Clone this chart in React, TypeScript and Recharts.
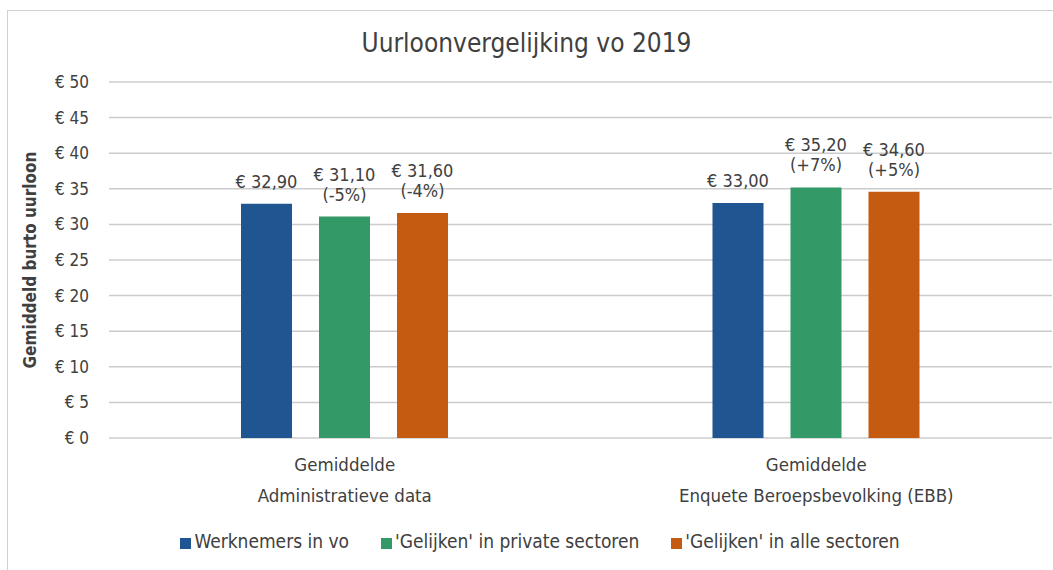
import { BarChart, Bar, XAxis, YAxis, CartesianGrid, Legend, LabelList } from 'recharts'

const groups = ['Gemiddelde', 'Gemiddelde']
const sources = ['Administratieve data', 'Enquete Beroepsbevolking (EBB)']
const werknemersVo = [32.9, 33.0]
const gelijkenPrivate = [31.1, 35.2]
const gelijkenAlle = [31.6, 34.6]
const pctPrivate = ['(-5%)', '(+7%)']
const pctAlle = ['(-4%)', '(+5%)']
const yTicks = [0, 5, 10, 15, 20, 25, 30, 35, 40, 45, 50]

const series = [
  { key: 'vo', name: 'Werknemers in vo', color: '#1f5591', pct: null as string[] | null },
  { key: 'priv', name: "'Gelijken' in private sectoren", color: '#339966', pct: pctPrivate },
  { key: 'alle', name: "'Gelijken' in alle sectoren", color: '#c55a11', pct: pctAlle },
]

const data = sources.map((s, i) => ({
  source: s,
  group: groups[i],
  vo: werknemersVo[i],
  priv: gelijkenPrivate[i],
  alle: gelijkenAlle[i],
}))

const FONT = '"DejaVu Sans Condensed", "DejaVu Sans", sans-serif'
const TEXT = '#404040'

const euro = (v: number) => `€ ${v.toFixed(2).replace('.', ',')}`

function makeLabel(pct: string[] | null) {
  return (props: any) => {
    const { x, y, width, value, index } = props
    const cx = Number(x) + Number(width) / 2
    const top = Number(y)
    if (!pct) {
      return (
        <text x={cx} y={top - 16} textAnchor="middle" fill={TEXT} fontSize={18} fontFamily={FONT}>
          {euro(Number(value))}
        </text>
      )
    }
    return (
      <text textAnchor="middle" fill={TEXT} fontSize={18} fontFamily={FONT}>
        <tspan x={cx} y={top - 36}>{euro(Number(value))}</tspan>
        <tspan x={cx} y={top - 16}>{pct[index]}</tspan>
      </text>
    )
  }
}

function CategoryTick(props: any) {
  const { x, y, payload, index } = props
  return (
    <g>
      <text x={x} y={y + 25} textAnchor="middle" fill={TEXT} fontSize={18.5} fontFamily={FONT}>
        {groups[index]}
      </text>
      <text x={x} y={y + 56} textAnchor="middle" fill={TEXT} fontSize={18.5} fontFamily={FONT}>
        {payload.value}
      </text>
    </g>
  )
}

function LegendContent() {
  return (
    <div
      style={{
        display: 'flex',
        justifyContent: 'center',
        gap: 32,
        paddingLeft: 28,
        fontFamily: FONT,
        fontSize: 19,
        color: TEXT,
        lineHeight: '22px',
      }}
    >
      {series.map((s) => (
        <div key={s.key} style={{ display: 'flex', alignItems: 'center' }}>
          <span style={{ width: 11, height: 11, background: s.color, marginRight: 3, marginTop: 4 }} />
          <span>{s.name}</span>
        </div>
      ))}
    </div>
  )
}

export default function App() {
  return (
    <div style={{ position: 'absolute', left: 0, top: 0, width: 1053, height: 570, background: '#fff', overflow: 'hidden' }}>
      <div style={{ position: 'absolute', left: 7, top: 10, width: 1100, height: 600, border: '1.5px solid #d0d0d0' }} />
      <div
        style={{
          position: 'absolute',
          left: 0,
          top: 28,
          width: 1053,
          textAlign: 'center',
          fontFamily: FONT,
          fontSize: 26,
          color: TEXT,
        }}
      >
        Uurloonvergelijking vo 2019
      </div>
      <div style={{ position: 'absolute', left: 0, top: 0 }}>
        <BarChart
          width={1053}
          height={570}
          data={data}
          margin={{ top: 82, right: 1, left: 0, bottom: 33 }}
          barCategoryGap={132}
          barGap={27}
        >
          <CartesianGrid vertical={false} stroke="#cccccc" strokeWidth={1.5} />
          <XAxis dataKey="source" axisLine={false} tickLine={false} height={77} tick={<CategoryTick />} interval={0} />
          <YAxis
            width={109}
            domain={[0, 50]}
            ticks={yTicks}
            axisLine={false}
            tickLine={false}
            tickMargin={14}
            tickFormatter={(v: number) => `€ ${v}`}
            tick={{ fill: TEXT, fontSize: 17, fontFamily: FONT }}
            label={{
              value: 'Gemiddeld burto uurloon',
              angle: -90,
              position: 'insideLeft',
              dx: 25,
              style: { textAnchor: 'middle', fill: TEXT, fontSize: 17, fontWeight: 'bold', fontFamily: FONT },
            }}
          />
          <Legend verticalAlign="bottom" content={<LegendContent />} wrapperStyle={{ bottom: 18 }} />
          {series.map((s) => (
            <Bar key={s.key} dataKey={s.key} name={s.name} fill={s.color} barSize={51} isAnimationActive={false}>
              <LabelList dataKey={s.key} content={makeLabel(s.pct)} />
            </Bar>
          ))}
        </BarChart>
      </div>
    </div>
  )
}
